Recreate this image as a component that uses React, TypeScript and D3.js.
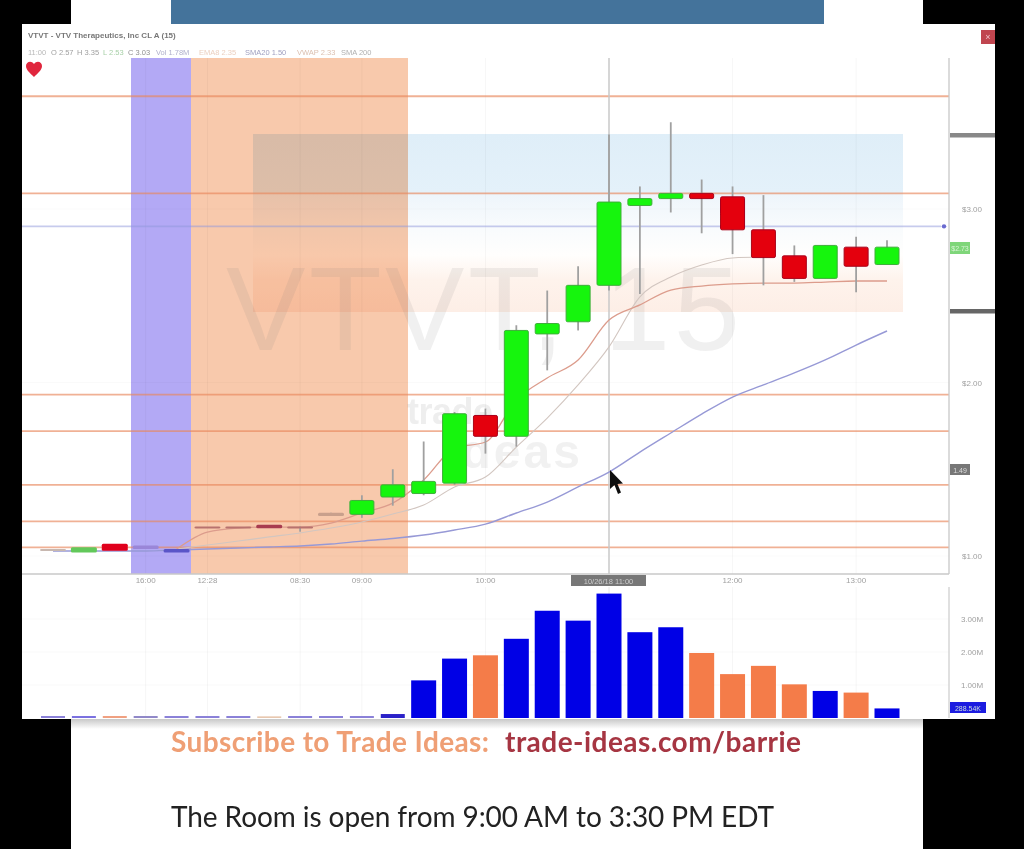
import React from "react";
import * as d3 from "d3";

const opens = [1.03,1.02,1.07,1.06,1.04,1.17,1.17,1.18,1.17,1.25,1.24,1.34,1.36,1.42,1.81,1.69,2.28,2.35,2.56,3.02,3.06,3.09,3.07,2.88,2.73,2.60,2.78,2.68];
const closes = [1.04,1.05,1.03,1.04,1.02,1.16,1.16,1.16,1.16,1.23,1.32,1.41,1.43,1.82,1.69,2.30,2.34,2.56,3.04,3.06,3.09,3.06,2.88,2.72,2.60,2.79,2.67,2.78];
const highs = [1.04,1.06,1.07,1.06,1.04,1.17,1.17,1.18,1.17,1.25,1.35,1.50,1.66,1.83,1.85,2.33,2.53,2.67,3.43,3.13,3.50,3.17,3.13,3.08,2.79,2.79,2.84,2.82];
const lows = [1.03,1.02,1.03,1.04,1.02,1.16,1.16,1.16,1.14,1.23,1.22,1.29,1.35,1.41,1.59,1.63,2.07,2.30,2.53,2.51,2.98,2.86,2.74,2.56,2.58,2.60,2.52,2.68];
const volumes = [0.06,0.06,0.06,0.06,0.06,0.06,0.06,0.05,0.06,0.06,0.06,0.12,1.14,1.8,1.9,2.4,3.25,2.95,3.77,2.6,2.75,1.97,1.33,1.58,1.02,0.82,0.77,0.29];
const volumeColors = ["#8a80d8","#7a70e0","#f0a080","#9088c8","#8a80d8","#8a80d8","#8a80d8","#e8c8b0","#8a80d8","#8a80d8","#8a80d8","#2a20c8","#0000e6","#0000e6","#f47c4a","#0000e6","#0000e6","#0000e6","#0000e6","#0000e6","#0000e6","#f47c4a","#f47c4a","#f47c4a","#f47c4a","#0000e6","#f47c4a","#0000e6"];
const mutedCandles = ["#c8b8b0","#62c85a","#e0001c","#9a86d8","#5a55c8","#b8726e","#b8726e","#a83a50","#b8726e","#c9a08c"];
const levels = [3.65,3.09,1.93,1.72,1.41,1.20,1.05];
const quoteLevel = 2.90;
const blueLine = [1.029,1.029,1.029,1.029,1.035,1.040,1.046,1.052,1.058,1.069,1.086,1.101,1.121,1.150,1.184,1.248,1.311,1.398,1.484,1.599,1.709,1.818,1.916,1.986,2.055,2.130,2.216,2.297];
const redLineStart = 4;
const redLine = [1.040,1.138,1.161,1.167,1.167,1.190,1.248,1.305,1.438,1.622,1.657,1.899,2.026,2.130,2.360,2.447,2.533,2.556,2.568,2.573,2.573,2.579,2.585,2.585];
const greyLineStart = 4;
const greyLine = [1.040,1.063,1.086,1.110,1.133,1.161,1.196,1.242,1.294,1.398,1.455,1.628,1.795,1.986,2.205,2.493,2.608,2.677,2.718,2.723];
const timeTicks: [number,string][] = [[3,"16:00"],[5,"12:28"],[8,"08:30"],[10,"09:00"],[14,"10:00"],[22,"12:00"],[26,"13:00"]];
const priceTicks = [3,2,1];
const volumeTicks = [3,2,1];
const header = "VTVT - VTV Therapeutics, Inc CL A (15)";
const quote = ["11:00","O 2.57","H 3.35","L 2.53","C 3.03","Vol 1.78M","EMA8 2.35","SMA20 1.50","VWAP 2.33","SMA 200"];
const quoteOffsets = [28,51,77,103,128,156,199,245,297,341];
const quoteColors = ["#b8b8b8","#a0a0a0","#a0a0a0","#a8d0a8","#909090","#b0b0cc","#ecd0c0","#a0a0c0","#dcc0b0","#b0b0b0"];

const x = d3.scaleLinear().domain([0,27]).range([53,887]);
const y = d3.scaleLinear().domain([1,3]).range([556,209]);
const v = d3.scaleLinear().domain([0,3]).range([718,619]);
const line = (vals:number[], start:number) => d3.line<number>().x((_,i)=>x(i+start)).y(d=>y(d)).curve(d3.curveMonotoneX)(vals) || "";

const GREEN="#14f50c", RED="#e4000f";
const sans="Liberation Sans, Arial, sans-serif";

export default function App(){
  const bw=24;
  return (
  <svg width={1024} height={849} viewBox="0 0 1024 849" style={{position:"absolute",left:0,top:0,display:"block"}} fontFamily={sans}>
    <defs>
      <filter id="soft" x="-2%" y="-2%" width="104%" height="104%"><feGaussianBlur stdDeviation="0.6"/></filter>
      <linearGradient id="zone" x1="0" y1="0" x2="0" y2="1">
        <stop offset="0" stopColor="#dfeef8"/><stop offset="0.33" stopColor="#e4f1fa"/>
        <stop offset="0.34" stopColor="#eef5fb"/><stop offset="0.52" stopColor="#f8fbfd"/>
        <stop offset="0.68" stopColor="#fffefd"/><stop offset="0.82" stopColor="#fef3ec"/><stop offset="1" stopColor="#fdeee6"/>
      </linearGradient>
      <linearGradient id="shadow" x1="0" y1="0" x2="0" y2="1">
        <stop offset="0" stopColor="#c8c8c8"/><stop offset="1" stopColor="#ffffff"/>
      </linearGradient>
    </defs>
    <rect width={1024} height={849} fill="#000"/>
    <rect x={71} width={852} height={849} fill="#fff"/>
    <rect x={171} width={653} height={30} fill="#44739b"/>
    <rect x={71} y={719} width={852} height={10} fill="url(#shadow)"/>
    <g filter="url(#soft)">
      <rect x={22} y={24} width={973} height={695} fill="#fff"/>
      <text x={28} y={38} fontSize={8} fontWeight={700} fill="#777">{header}</text>
      {quote.map((q,i)=><text key={q} x={quoteOffsets[i]} y={55} fontSize={7.5} fill={quoteColors[i]}>{q}</text>)}
      <path d="M34 77 C30 73 26 70 26 66 C26 62 31 60 34 64 C37 60 42 62 42 66 C42 70 38 73 34 77 Z" fill="#e0263c"/>
      <rect x={981} y={30} width={14} height={14} fill="#c0454f"/>
      <text x={988} y={40} fontSize={9} fill="#f0c0c8" textAnchor="middle">×</text>

      <rect x={131} y={58} width={60} height={516} fill="#b3a9f5"/>
      <rect x={191} y={58} width={217} height={516} fill="#f8c9ac"/>
      <rect x={253} y={134} width={650} height={178} fill="url(#zone)" style={{mixBlendMode:"multiply"}}/>

      <text x={226} y={350} fontSize={119} fill="#777" fillOpacity={0.115} textLength={514}>VTVT, 15</text>
      <text x={407} y={424} fontSize={36} fontWeight={700} fill="#8a8a8a" fillOpacity={0.14} textLength={86}>trade</text>
      <text x={445} y={468} fontSize={48} fontWeight={700} fill="#8a8a8a" fillOpacity={0.12} textLength={135}>ideas</text>

      {timeTicks.map(([i])=><g key={i}>
        <line x1={x(i)} x2={x(i)} y1={58} y2={574} stroke="#000" strokeOpacity={0.035} strokeWidth={1}/>
        <line x1={x(i)} x2={x(i)} y1={587} y2={718} stroke="#000" strokeOpacity={0.04} strokeWidth={1}/>
      </g>)}
      {priceTicks.map(p=><line key={p} x1={22} x2={949} y1={y(p)} y2={y(p)} stroke="#000" strokeOpacity={0.02}/>)}
      {volumeTicks.map(p=><line key={p} x1={22} x2={949} y1={v(p)} y2={v(p)} stroke="#000" strokeOpacity={0.025}/>)}

      {levels.map(l=><line key={l} x1={22} x2={949} y1={y(l)} y2={y(l)} stroke="#e8875c" strokeWidth={1.8} strokeOpacity={0.65}/>)}
      <line x1={22} x2={941} y1={y(quoteLevel)} y2={y(quoteLevel)} stroke="#8f98dc" strokeWidth={1.8} strokeOpacity={0.5}/>
      <circle cx={944} cy={y(quoteLevel)} r={2.2} fill="#6a6ad0"/>

      <line x1={x(18)} x2={x(18)} y1={58} y2={574} stroke="#c8c8c8" strokeWidth={1.5}/>
      <line x1={x(18)} x2={x(18)} y1={587} y2={718} stroke="#e8e8e8" strokeWidth={1}/>

      <path d={line(blueLine,0)} fill="none" stroke="#9799d6" strokeWidth={1.4}/>
      <path d={line(greyLine,greyLineStart)} fill="none" stroke="#d2c6c0" strokeWidth={1.1}/>
      <path d={line(redLine,redLineStart)} fill="none" stroke="#dc9c8c" strokeWidth={1.3}/>

      {opens.map((o,i)=>{
        const c=closes[i];
        const top=y(Math.max(o,c)), bot=y(Math.min(o,c));
        const fill=i<mutedCandles.length?mutedCandles[i]:(c>=o?GREEN:RED);
        return <g key={i}>
          {i>=8 && <line x1={x(i)} x2={x(i)} y1={y(highs[i])} y2={y(lows[i])} stroke="#a0a0a0" strokeWidth={1.8}/>}
          <rect x={x(i)-bw/2-(i<10?1:0)} y={top} width={bw+(i<10?2:0)} height={Math.max(bot-top,2)} fill={fill} rx={1.5} stroke={i>=10?(c>=o?"#3fae3a":"#a8001a"):"none"} strokeWidth={i>=10?1:0}/>
        </g>;
      })}

      <line x1={22} x2={949} y1={574} y2={574} stroke="#c8c8c8" strokeWidth={1.3}/>
      <line x1={949} x2={949} y1={58} y2={574} stroke="#c8c8c8" strokeWidth={1.3}/>
      <line x1={949} x2={949} y1={587} y2={718} stroke="#d0d0d0" strokeWidth={1.3}/>
      {priceTicks.map(p=><text key={p} x={972} y={y(p)+3} fontSize={8} fill="#a0a0a0" textAnchor="middle">{`$${p}.00`}</text>)}
      <rect x={950} y={133} width={45} height={4.5} fill="#888"/>
      <rect x={950} y={309} width={45} height={4.5} fill="#666"/>
      <rect x={950} y={242} width={20} height={12} fill="#7fd67a"/>
      <text x={960} y={251} fontSize={7} fill="#d8f5d5" textAnchor="middle">$2.73</text>
      <rect x={950} y={464} width={20} height={11} fill="#777"/>
      <text x={960} y={472.5} fontSize={7} fill="#ddd" textAnchor="middle">1.49</text>

      {timeTicks.map(([i,t])=><text key={t} x={x(i)} y={583} fontSize={8} fill="#a0a0a0" textAnchor="middle">{t}</text>)}
      <rect x={571} y={575} width={75} height={11} fill="#777"/>
      <text x={608.5} y={583.5} fontSize={7.5} fill="#ccc" textAnchor="middle">10/26/18 11:00</text>

      {volumes.map((d,i)=><rect key={i} x={x(i)-(i<12?12:12.5)} y={v(d)} width={i<12?24:25} height={718-v(d)} fill={volumeColors[i]}/>)}
      {volumeTicks.map(p=><text key={p} x={972} y={v(p)+3} fontSize={8} fill="#a0a0a0" textAnchor="middle">{`${p}.00M`}</text>)}
      <rect x={950} y={702} width={36} height={11} fill="#1a1ae0"/>
      <text x={968} y={710.5} fontSize={7} fill="#cdd" textAnchor="middle">288.54K</text>

      <path d="M610 470 L610 489 L614.5 485 L618 494 L621 492.5 L617.5 484 L623 483.5 Z" fill="#111"/>

      <text x={171} y={752} fontSize={28} fontWeight={700} fill="#ef9f74" fontFamily="Lato, sans-serif" textLength={318}>Subscribe to Trade Ideas:</text>
      <text x={505} y={752} fontSize={28} fontWeight={700} fill="#a63642" fontFamily="Lato, sans-serif" textLength={296}>trade-ideas.com/barrie</text>
      <text x={171} y={827} fontSize={28} fill="#222" fontFamily="Lato, sans-serif" textLength={603}>The Room is open from 9:00 AM to 3:30 PM EDT</text>
    </g>
    <rect x={0} y={0} width={22} height={849} fill="#000"/>
    <rect x={995} y={0} width={29} height={849} fill="#000"/>
  </svg>);
}
